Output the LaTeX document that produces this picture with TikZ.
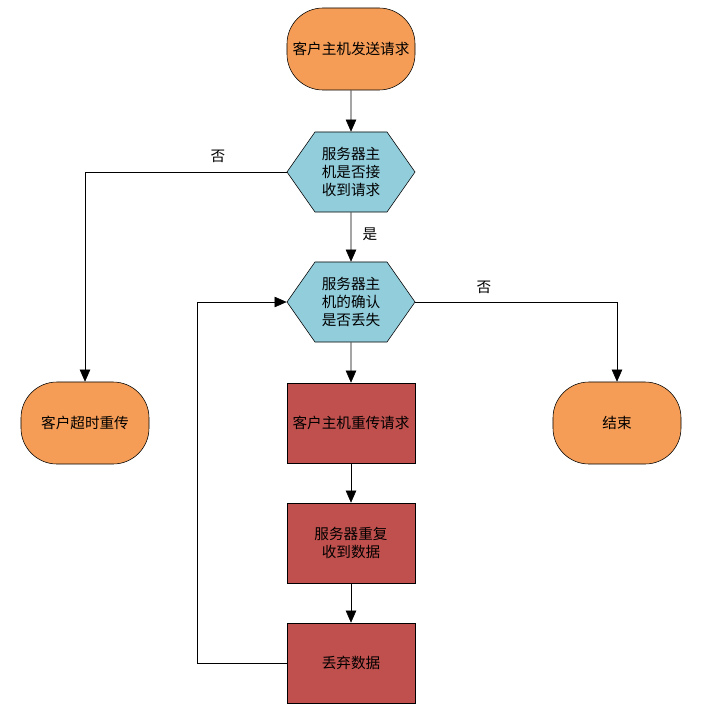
\documentclass[tikz,border=0pt]{standalone}
\usepackage{fontspec}
\setmainfont{Noto Sans CJK SC}
\usetikzlibrary{positioning,arrows.meta,shapes.symbols}
\definecolor{termorange}{HTML}{F59D56}
\definecolor{decblue}{HTML}{92CDDC}
\definecolor{procred}{HTML}{C0504D}

\begin{document}
\begin{tikzpicture}[x=0.025cm, y=-0.025cm, >={Triangle[length=0.3cm, width=0.26cm]},
  every node/.style={font=\fontsize{10.4pt}{13pt}\selectfont},
  terminal/.style={draw, fill=termorange, rounded corners=0.9cm, minimum width=3.2cm, minimum height=2.05cm, align=center},
  decision/.style={draw, fill=decblue, signal, signal to=east and west, signal pointer angle=110, minimum width=3.2cm, minimum height=2cm, inner sep=0pt, align=center},
  process/.style={draw, fill=procred, minimum width=3.2cm, minimum height=2cm, align=center},
  flow/.style={->}]
  \useasboundingbox (0,0) rectangle (701,712);
  \node[terminal] (start) at (351,49) {客户主机发送请求};
  \node[decision] (chk1) at (351,172) {服务器主\\机是否接\\收到请求};
  \node[decision] (chk2) at (351,302) {服务器主\\机的确认\\是否丢失};
  \node[terminal] (retry) at (85,423) {客户超时重传};
  \node[terminal] (fin) at (617,423) {结束};
  \node[process] (resend) at (351,423) {客户主机重传请求};
  \node[process] (dup) at (351,543) {服务器重复\\收到数据};
  \node[process] (drop) at (351,663) {丢弃数据};
  \coordinate (back) at (197,663);
  % connectors
  \draw[flow] (start) -- (chk1);
  \draw[flow] (chk1.west) -| (retry);
  \draw[flow] (chk1) -- (chk2);
  \draw[flow] (chk2.east) -| (fin);
  \draw[flow] (chk2) -- (resend);
  \draw[flow] (resend) -- (dup);
  \draw[flow] (dup) -- (drop);
  \draw[flow] (drop.west) -- (back) |- (chk2.west);
  % labels
  \node (no1) at (218,156) {否};
  \node (yes1) at (370,234) {是};
  \node (no2) at (484,287) {否};
\end{tikzpicture}
\end{document}
